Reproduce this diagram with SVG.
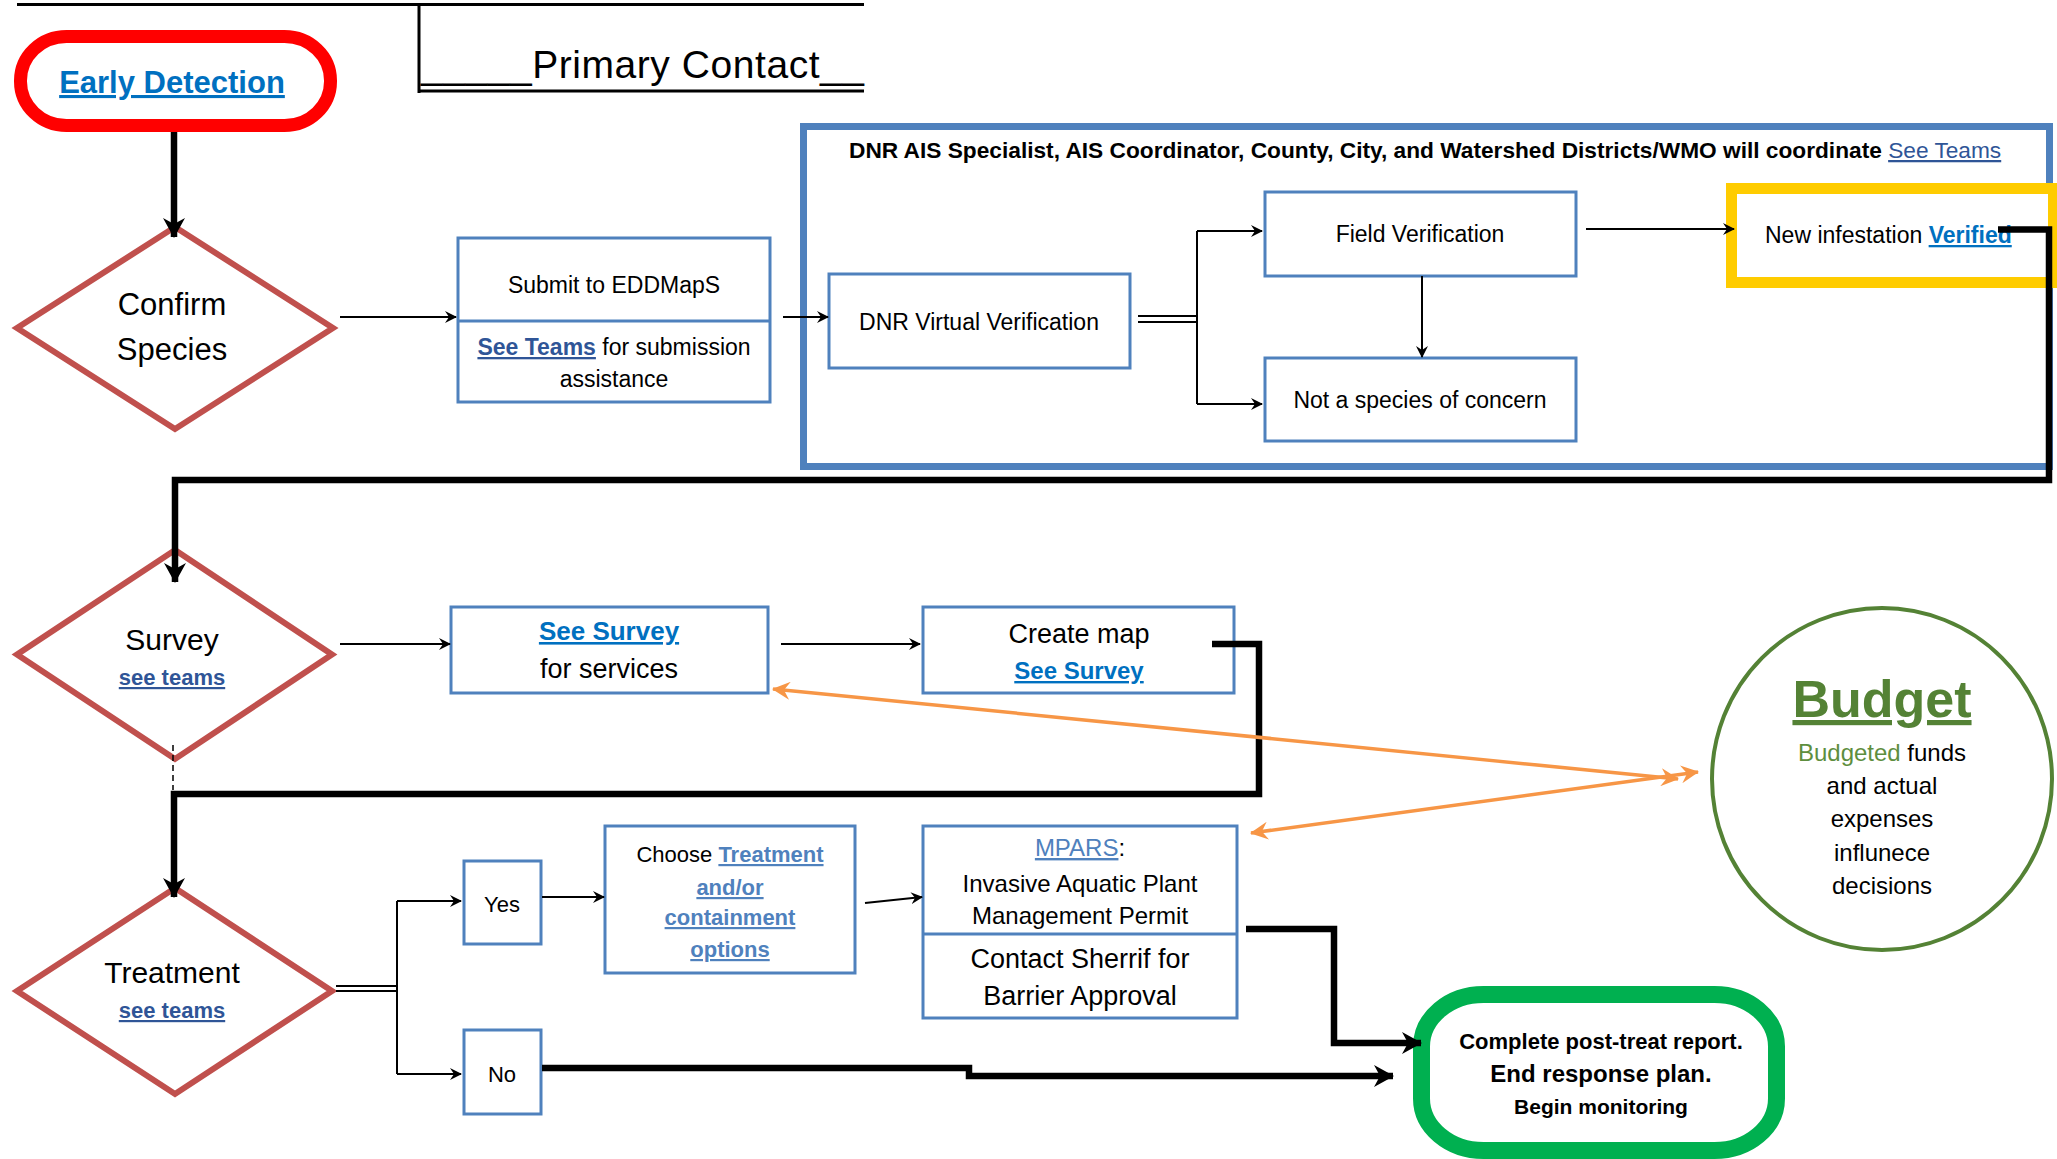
<svg xmlns="http://www.w3.org/2000/svg" width="2057" height="1159" viewBox="0 0 2057 1159">
<style>
text{font-family:"Liberation Sans",Arial,sans-serif;fill:#000}
.c{text-anchor:middle}
.b{font-weight:bold}
.u{text-decoration:underline}
.lk{fill:#2F5597}
.lb{fill:#0070C0}
.ll{fill:#4F81BD}
.box{fill:#fff;stroke:#4F81BD;stroke-width:3}
.dia{fill:#fff;stroke:#C0504D;stroke-width:6}
.thin{fill:none;stroke:#000;stroke-width:2}
.thick{fill:none;stroke:#000;stroke-width:6.5}
.org{fill:none;stroke:#F79646;stroke-width:3.5}
</style>
<defs>
<marker id="ah" markerUnits="userSpaceOnUse" viewBox="0 0 12 12" markerWidth="12" markerHeight="12" refX="11" refY="6" orient="auto"><path d="M0,0 L12,6 L0,12 L4,6 z" fill="#000"/></marker>
<marker id="ahb" markerUnits="userSpaceOnUse" viewBox="0 0 20 22" markerWidth="20" markerHeight="22" refX="19" refY="11" orient="auto"><path d="M0,0 L20,11 L0,22 L6,11 z" fill="#000"/></marker>
<marker id="aho" markerUnits="userSpaceOnUse" viewBox="0 0 18 18" markerWidth="18" markerHeight="18" refX="17" refY="9" orient="auto-start-reverse"><path d="M0,0 L18,9 L0,18 L6,9 z" fill="#F79646"/></marker>
</defs>
<rect width="2057" height="1159" fill="#fff"/>

<g id="header">
<path d="M17,4.5 H864 M419,4.5 V93 M419,91 H864" fill="none" stroke="#000" stroke-width="3"/>
<text x="421" y="78" font-size="39" textLength="443" lengthAdjust="spacing">_____Primary Contact__</text>
</g>

<g id="coord-box">
<rect x="803.5" y="126.5" width="1246" height="340" fill="none" stroke="#4F81BD" stroke-width="7"/>
<text x="849" y="158" font-size="22.7"><tspan class="b">DNR AIS Specialist, AIS Coordinator, County, City, and Watershed Districts/WMO will coordinate </tspan><tspan class="lk u">See Teams</tspan></text>
</g>

<g id="early-detection">
<rect x="20.5" y="36.5" width="310" height="89" rx="46" ry="44" fill="#fff" stroke="#FF0000" stroke-width="13"/>
<text x="172" y="93" class="c b u lb" font-size="31">Early Detection</text>
</g>

<g id="confirm-species">
<polygon class="dia" points="175,227 333,328 175,429 17,328"/>
<text x="172" y="315" class="c" font-size="31">Confirm</text>
<text x="172" y="360" class="c" font-size="31">Species</text>
</g>

<g id="submit-eddmaps">
<rect class="box" x="458" y="238" width="312" height="164"/>
<line x1="458" y1="321" x2="770" y2="321" stroke="#4F81BD" stroke-width="3"/>
<text x="614" y="293" class="c" font-size="23">Submit to EDDMapS</text>
<text x="614" y="355" class="c" font-size="23"><tspan class="b lk u">See Teams</tspan> for submission</text>
<text x="614" y="387" class="c" font-size="23">assistance</text>
</g>

<g id="dnr-virtual">
<rect class="box" x="829" y="274" width="301" height="94"/>
<text x="979" y="330" class="c" font-size="23">DNR Virtual Verification</text>
</g>

<g id="field-verification">
<rect class="box" x="1265" y="192" width="311" height="84"/>
<text x="1420" y="242" class="c" font-size="23">Field Verification</text>
</g>

<g id="not-species">
<rect class="box" x="1265" y="358" width="311" height="83"/>
<text x="1420" y="408" class="c" font-size="23">Not a species of concern</text>
</g>

<g id="new-infestation">
<rect x="1731.5" y="188.5" width="322" height="94" fill="#fff" stroke="#FFCC00" stroke-width="11"/>
<text x="1765" y="243" font-size="23">New infestation <tspan class="b lb u">Verified</tspan></text>
</g>

<g id="survey">
<polygon class="dia" points="175,550 332,654.5 175,759 17,654.5"/>
<text x="172" y="650" class="c" font-size="30">Survey</text>
<text x="172" y="685" class="c b lk u" font-size="22">see teams</text>
</g>

<g id="see-survey">
<rect class="box" x="451" y="607" width="317" height="86"/>
<text x="609" y="640" class="c b lb u" font-size="26">See Survey</text>
<text x="609" y="678" class="c" font-size="27">for services</text>
</g>

<g id="create-map">
<rect class="box" x="923" y="607" width="311" height="86"/>
<text x="1079" y="643" class="c" font-size="27">Create map</text>
<text x="1079" y="679" class="c b lb u" font-size="24">See Survey</text>
</g>

<g id="budget">
<ellipse cx="1882" cy="779" rx="170" ry="171" fill="#fff" stroke="#548235" stroke-width="4"/>
<text x="1882" y="717" class="c b u" font-size="52" style="fill:#548235">Budget</text>
<text x="1882" y="761" class="c" font-size="24"><tspan style="fill:#5E8E3E">Budgeted</tspan> funds</text>
<text x="1882" y="794" class="c" font-size="24">and actual</text>
<text x="1882" y="827" class="c" font-size="24">expenses</text>
<text x="1882" y="861" class="c" font-size="24">influnece</text>
<text x="1882" y="894" class="c" font-size="24">decisions</text>
</g>

<g id="treatment">
<polygon class="dia" points="175,888 332,991 175,1094 17,991"/>
<text x="172" y="983" class="c" font-size="30">Treatment</text>
<text x="172" y="1018" class="c b lk u" font-size="22">see teams</text>
</g>

<g id="yes">
<rect class="box" x="464" y="861" width="77" height="83"/>
<text x="502" y="912" class="c" font-size="22">Yes</text>
</g>

<g id="no">
<rect class="box" x="464" y="1030" width="77" height="84"/>
<text x="502" y="1082" class="c" font-size="22">No</text>
</g>

<g id="choose-treatment">
<rect class="box" x="605" y="826" width="250" height="147"/>
<text x="730" y="862" class="c" font-size="22">Choose <tspan class="b ll u">Treatment</tspan></text>
<text x="730" y="895" class="c b ll u" font-size="22">and/or</text>
<text x="730" y="925" class="c b ll u" font-size="22">containment</text>
<text x="730" y="957" class="c b ll u" font-size="22">options</text>
</g>

<g id="mpars">
<rect class="box" x="923" y="826" width="314" height="192"/>
<line x1="923" y1="934" x2="1237" y2="934" stroke="#4F81BD" stroke-width="3"/>
<text x="1080" y="856" class="c" font-size="24"><tspan class="ll u">MPARS</tspan>:</text>
<text x="1080" y="892" class="c" font-size="24">Invasive Aquatic Plant</text>
<text x="1080" y="924" class="c" font-size="24">Management Permit</text>
<text x="1080" y="968" class="c" font-size="27">Contact Sherrif for</text>
<text x="1080" y="1005" class="c" font-size="27">Barrier Approval</text>
</g>

<g id="end-response">
<rect x="1421.5" y="994.5" width="355" height="156" rx="62" ry="52" fill="#fff" stroke="#00B050" stroke-width="17"/>
<text x="1601" y="1049" class="c b" font-size="22">Complete post-treat report.</text>
<text x="1601" y="1082" class="c b" font-size="24">End response plan.</text>
<text x="1601" y="1114" class="c b" font-size="21">Begin monitoring</text>
</g>

<g id="connectors">
<path class="thin" d="M340,317 H456" marker-end="url(#ah)"/>
<path class="thin" d="M783,317 H828" marker-end="url(#ah)"/>
<path class="thin" d="M1138,316 H1197 M1138,322 H1197 M1197,231 V404"/>
<path class="thin" d="M1197,231 H1262" marker-end="url(#ah)"/>
<path class="thin" d="M1197,404 H1262" marker-end="url(#ah)"/>
<path class="thin" d="M1422,276 V357" marker-end="url(#ah)"/>
<path class="thin" d="M1586,229 H1734" marker-end="url(#ah)"/>
<path class="thin" d="M340,644 H450" marker-end="url(#ah)"/>
<path class="thin" d="M781,644 H920" marker-end="url(#ah)"/>
<path class="thin" d="M336,986 H397 M336,991 H397 M397,901 V1074"/>
<path class="thin" d="M397,901 H461" marker-end="url(#ah)"/>
<path class="thin" d="M397,1074 H461" marker-end="url(#ah)"/>
<path class="thin" d="M542,897 H604" marker-end="url(#ah)"/>
<path class="thin" d="M865,903 L922,897" marker-end="url(#ah)"/>
<path d="M173,745 V790" fill="none" stroke="#000" stroke-width="1.5" stroke-dasharray="6,4"/>
<path class="thick" d="M174,132 V237" marker-end="url(#ahb)"/>
<path class="thick" d="M1998,229.5 H2049 V480 H175 V582" marker-end="url(#ahb)"/>
<path class="thick" d="M1212,644 H1259 V794 H174 V897" marker-end="url(#ahb)"/>
<path class="thick" d="M1246,929 H1334 V1043 H1421" marker-end="url(#ahb)"/>
<path class="thick" d="M542,1068 H969 V1076 H1393" marker-end="url(#ahb)"/>
<path class="org" d="M773,689 L1678,779" marker-start="url(#aho)" marker-end="url(#aho)"/>
<path class="org" d="M1251,833 L1698,772" marker-start="url(#aho)" marker-end="url(#aho)"/>
</g>
</svg>
